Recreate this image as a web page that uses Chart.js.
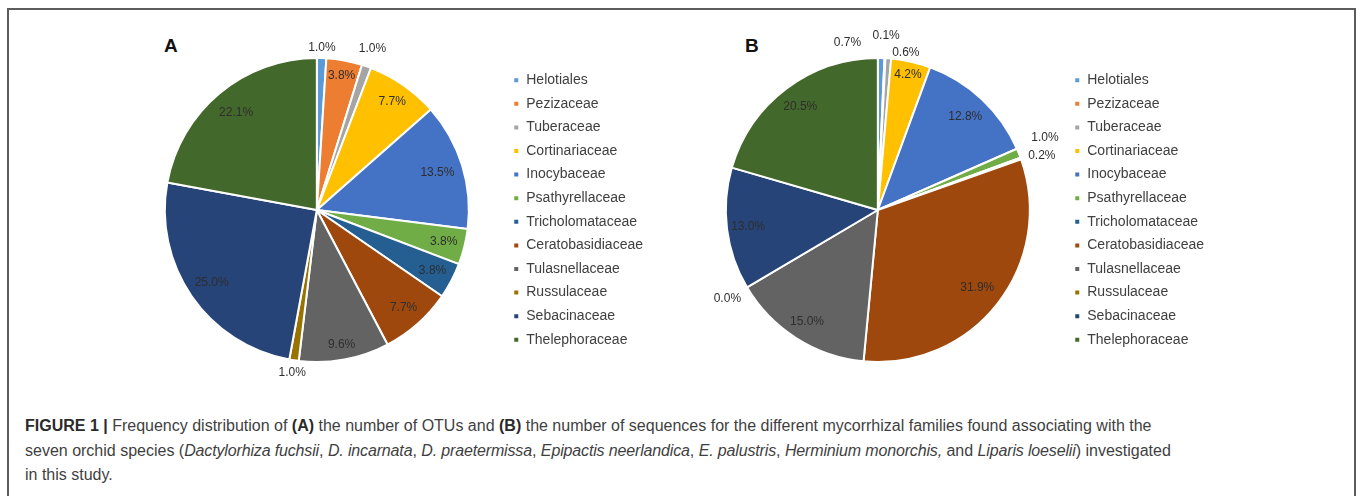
<!DOCTYPE html>
<html>
<head>
<meta charset="utf-8">
<script src="https://cdn.jsdelivr.net/npm/chart.js@4.4.1/dist/chart.umd.min.js"></script>
<style>
  html, body { margin: 0; padding: 0; background: #fff; }
  body { width: 1357px; height: 496px; overflow: hidden; position: relative; font-family: "Liberation Sans", Arial, sans-serif; }
  #frame { position: absolute; left: 7px; top: 8px; width: 1345px; height: 520px; border: 2px solid #5c5c5c; }
  canvas { position: absolute; }
  #chartA { left: 130px; top: 20px; }
  #chartB { left: 691px; top: 20px; }
  .panel { position: absolute; font: bold 19px "Liberation Sans", Arial, sans-serif; color: #111; }
  #caption { position: absolute; left: 25px; top: 414px; width: 1320px; font-family: "Liberation Sans", Arial, sans-serif;
             font-size: 16px; line-height: 24.5px; color: #3f3f3f; white-space: nowrap; }
  #caption b { color: #2a2a2a; }
  #caption i { letter-spacing: -0.15px; }
</style>
</head>
<body>
<div id="frame"></div>
<div class="panel" style="left:164px; top:35px;">A</div>
<div class="panel" style="left:745px; top:35px;">B</div>
<canvas id="chartA" width="523" height="380"></canvas>
<canvas id="chartB" width="523" height="380"></canvas>
<div id="caption">
<b>FIGURE 1 |</b> Frequency distribution of <b>(A)</b> the number of OTUs and <b>(B)</b> the number of sequences for the different mycorrhizal families found associating with the<br>
seven orchid species (<i>Dactylorhiza fuchsii</i>, <i>D. incarnata</i>, <i>D. praetermissa</i>, <i>Epipactis neerlandica</i>, <i>E. palustris</i>, <i>Herminium monorchis,</i> and <i>Liparis loeselii</i>) investigated<br>
in this study.
</div>
<script>
const families = ["Helotiales", "Pezizaceae", "Tuberaceae", "Cortinariaceae", "Inocybaceae", "Psathyrellaceae",
  "Tricholomataceae", "Ceratobasidiaceae", "Tulasnellaceae", "Russulaceae", "Sebacinaceae", "Thelephoraceae"]

// percent of OTUs (A) and of sequences (B)
const otuShare = [1.0, 3.8, 1.0, 7.7, 13.5, 3.8, 3.8, 7.7, 9.6, 1.0, 25.0, 22.1]
const seqShare = [0.7, 0.1, 0.6, 4.2, 12.8, 1.0, 0.2, 31.9, 15.0, 0.0, 13.0, 20.5]

const familyColors = ["#5B9BD5", "#ED7D31", "#A5A5A5", "#FFC000", "#4472C4", "#70AD47",
  "#255E91", "#9E480E", "#636363", "#997300", "#264478", "#43682B"]

// label distance (fraction of radius) and small nudges, like excel "best fit"
const labelRadiusA = [1.07, 0.9, 1.12, 0.87, 0.83, 0.86, 0.86, 0.86, 0.9, 1.08, 0.84, 0.83]
const labelNudgeA = [[0, 0], [0, 0], [0, 0], [0, 0], [0, 0], [0, 0], [0, 0], [0, 0], [0, 0], [0, 0], [0, 0], [0, 0]]
const labelRadiusB = [1.1, 1.15, 1.05, 0.91, 0.84, 1.2, 1.14, 0.83, 0.87, 1.15, 0.86, 0.85]
const labelNudgeB = [[-34, 0], [0, 0], [17, 2], [0, 0], [0, 0], [-2, -4], [1, 4], [0, 0], [0, 0], [0, 0], [0, 0], [0, 0]]

const pctLabels = {
  id: 'pctLabels',
  afterDatasetsDraw(chart, args, opts) {
    const c = chart.ctx
    const meta = chart.getDatasetMeta(0)
    const vals = chart.data.datasets[0].data
    c.save()
    c.font = '12px "Liberation Sans", Arial, sans-serif'
    c.fillStyle = '#2e2e2e'
    c.textAlign = 'center'
    c.textBaseline = 'middle'
    meta.data.forEach((arc, i) => {
      const mid = (arc.startAngle + arc.endAngle) / 2
      const d = arc.outerRadius * opts.radius[i]
      const x = arc.x + Math.cos(mid) * d + opts.nudge[i][0]
      const y = arc.y + Math.sin(mid) * d + opts.nudge[i][1]
      c.fillText(vals[i].toFixed(1) + '%', x, y)
    })
    c.restore()
  }
}

function pieChart(id, values, radius, nudge) {
  return new Chart(document.getElementById(id), {
    type: 'pie',
    data: {
      labels: families,
      datasets: [{
        data: values,
        backgroundColor: familyColors,
        borderColor: '#fff',
        borderWidth: 2,
        hoverOffset: 0
      }]
    },
    options: {
      responsive: false,
      animation: false,
      events: [],
      layout: { padding: { top: 37, bottom: 37, left: 0, right: 0 } },
      plugins: {
        tooltip: { enabled: false },
        legend: {
          position: 'right',
          labels: {
            boxWidth: 6,
            boxHeight: 6,
            padding: 9.6,
            color: '#404040',
            font: { family: '"Liberation Sans", Arial, sans-serif', size: 14 }
          }
        },
        pctLabels: { radius: radius, nudge: nudge }
      }
    },
    plugins: [pctLabels]
  })
}

const chartA = pieChart('chartA', otuShare, labelRadiusA, labelNudgeA)
const chartB = pieChart('chartB', seqShare, labelRadiusB, labelNudgeB)
</script>
</body>
</html>
